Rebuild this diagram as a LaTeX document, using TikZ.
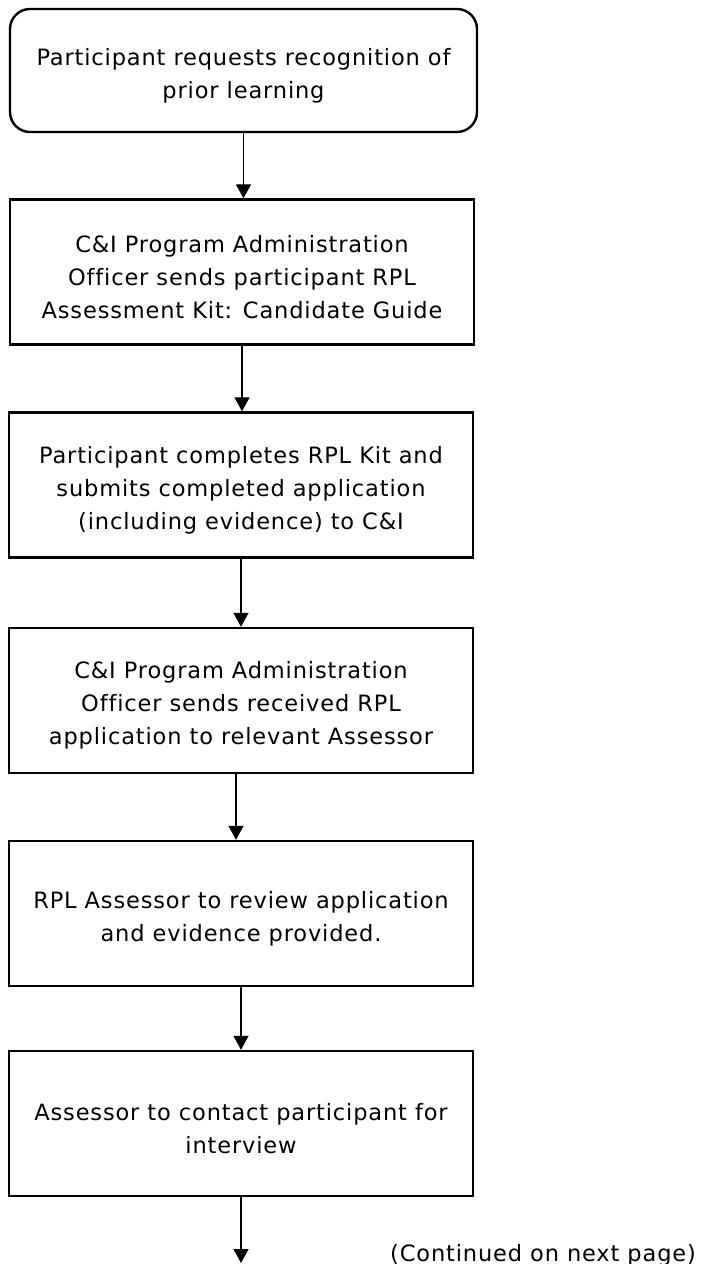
\documentclass[tikz,border=0pt]{standalone}
\usepackage{fontspec}
\setmainfont{DejaVu Sans}[LetterSpace=3.8,Ligatures=CommonOff]
\usetikzlibrary{arrows.meta}
\newcommand\firstlift{\rule{0pt}{27pt}}
\begin{document}
\begin{tikzpicture}[x=1pt,y=-1pt,
  font=\fontsize{22.5}{33}\selectfont,
  boxbase/.style={draw, line width=2.4pt, align=center, inner sep=0pt},
  stepbox/.style={boxbase, minimum width=464pt, minimum height=145pt},
  startbox/.style={boxbase, rounded corners=20pt, minimum width=467pt, minimum height=123pt},
  arr/.style={line width=1.3pt, -{Triangle[length=14pt,width=15pt]}}
]
\useasboundingbox (0,0) rectangle (709,1264);
\node[startbox] (b1) at (243.5,70.5) {\firstlift Participant requests recognition of\\prior learning};
\node[stepbox] (b2) at (242,272) {\firstlift C\&I Program Administration\\Officer sends participant RPL\\Assessment Kit: Candidate Guide};
\node[stepbox] (b3) at (241,485) {\firstlift Participant completes RPL Kit and\\submits completed application\\(including evidence) to C\&I};
\node[stepbox] (b4) at (241,700.5) {\firstlift C\&I Program Administration\\Officer sends received RPL\\application to relevant Assessor};
\node[stepbox] (b5) at (241,913.5) {\firstlift RPL Assessor to review application\\and evidence provided.};
\node[stepbox] (b6) at (241,1123.5) {\firstlift Assessor to contact participant for\\interview};
\node[anchor=base west, inner sep=0pt] (cont) at (390,1261) {(Continued on next page)};
\coordinate (a4s) at ([xshift=-5pt]b4.south);
\coordinate (endpt) at (241,1263);
\draw[arr] (b1.south) -- (b1.south |- b2.north);
\draw[arr] (b2.south) -- (b2.south |- b3.north);
\draw[arr] (b3.south) -- (b3.south |- b4.north);
\draw[arr] (a4s) -- (a4s |- b5.north);
\draw[arr] (b5.south) -- (b5.south |- b6.north);
\draw[arr] (b6.south) -- (b6.south |- endpt);
\end{tikzpicture}
\end{document}
